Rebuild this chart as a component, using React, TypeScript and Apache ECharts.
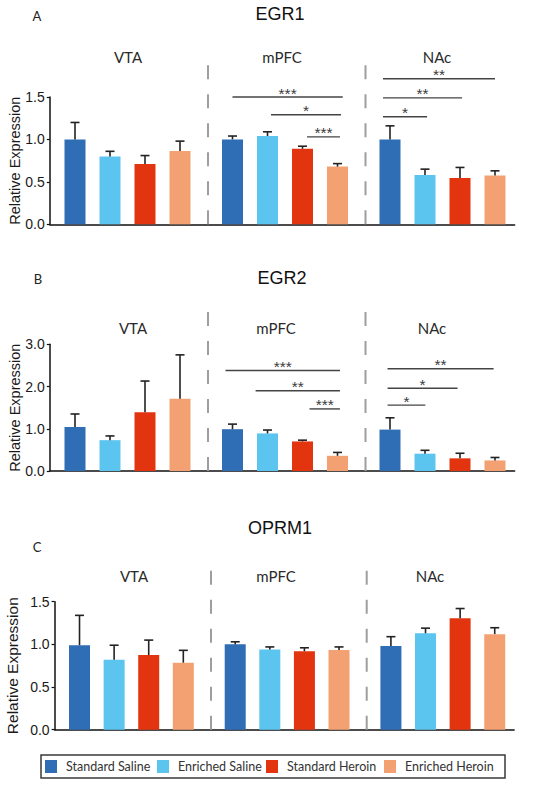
import React, { useEffect, useRef } from 'react';
import * as echarts from 'echarts';

const GROUPS = ['Standard Saline', 'Enriched Saline', 'Standard Heroin', 'Enriched Heroin'];
const COLORS = ['#2F6DB5', '#5BC4EF', '#E2340F', '#F3A172'];
const REGIONS = ['VTA', 'mPFC', 'NAc'];
const GENES = ['EGR1', 'EGR2', 'OPRM1'];
const LETTERS = ['A', 'B', 'C'];

// means [region][group]
const EGR1_MEAN = [[1.0, 0.8, 0.71, 0.865], [1.0, 1.04, 0.89, 0.68], [1.0, 0.58, 0.545, 0.575]];
const EGR1_SEM = [[0.2, 0.06, 0.1, 0.115], [0.04, 0.05, 0.03, 0.035], [0.16, 0.07, 0.125, 0.055]];
const EGR2_MEAN = [[1.04, 0.73, 1.39, 1.71], [0.99, 0.89, 0.7, 0.36], [0.98, 0.41, 0.3, 0.25]];
const EGR2_SEM = [[0.31, 0.1, 0.74, 1.04], [0.12, 0.08, 0.03, 0.08], [0.28, 0.08, 0.12, 0.07]];
const OPRM1_MEAN = [[0.99, 0.82, 0.875, 0.785], [1.0, 0.94, 0.92, 0.935], [0.98, 1.13, 1.305, 1.12]];
const OPRM1_SEM = [[0.35, 0.17, 0.175, 0.145], [0.03, 0.03, 0.04, 0.035], [0.11, 0.06, 0.115, 0.075]];

const Y_MAX = [1.5, 3.0, 1.5];
const Y_STEP = [0.5, 1.0, 0.5];

// significance brackets: region, from/to (bar index within region), level, label
const EGR1_SIG = [
  { region: 1, from: 0, to: 3.15, level: 1.5, label: '***' },
  { region: 1, from: 1.1, to: 3.1, level: 1.29, label: '*' },
  { region: 1, from: 2.13, to: 3.07, level: 1.03, label: '***' },
  { region: 2, from: -0.2, to: 3.0, level: 1.715, label: '**' },
  { region: 2, from: -0.2, to: 2.06, level: 1.49, label: '**' },
  { region: 2, from: -0.2, to: 1.06, level: 1.267, label: '*' },
];
const EGR2_SIG = [
  { region: 1, from: -0.2, to: 3.07, level: 2.38, label: '***' },
  { region: 1, from: 0.66, to: 3.07, level: 1.9, label: '**' },
  { region: 1, from: 2.2, to: 3.07, level: 1.47, label: '***' },
  { region: 2, from: -0.07, to: 2.96, level: 2.42, label: '**' },
  { region: 2, from: -0.07, to: 1.93, level: 1.96, label: '*' },
  { region: 2, from: -0.07, to: 1.01, level: 1.56, label: '*' },
];
const OPRM1_SIG: { region: number; from: number; to: number; level: number; label: string }[] = [];

const MEANS = [EGR1_MEAN, EGR2_MEAN, OPRM1_MEAN];
const SEMS = [EGR1_SEM, EGR2_SEM, OPRM1_SEM];
const SIGS = [EGR1_SIG, EGR2_SIG, OPRM1_SIG];

const REGION_GAP = 4.5;
const DIVIDERS = [3.8, 8.3];
const pos = (r: number, g: number) => r * REGION_GAP + g;

const LAYOUT = [
  { top: 97, h: 127.3, left: 49.8, width: 464.8, divTop: 2.01, titleX: 280, titleY: 14, letterX: 37, letterY: 16, regionY: 57, regionX: [128, 282, 437], nameGap: 27, nameSize: 14.5 },
  { top: 344.3, h: 126.7, left: 49.8, width: 464.8, divTop: 3.93, titleX: 282, titleY: 278, letterX: 38, letterY: 279, regionY: 328, regionX: [133, 276, 432], nameGap: 27, nameSize: 14.5 },
  { top: 601.7, h: 128, left: 54.6, width: 459.5, divTop: 1.93, titleX: 280, titleY: 527.7, letterX: 37, letterY: 546.7, regionY: 575.7, regionX: [134, 276, 430], nameGap: 34, nameSize: 15.5 },
];

const LEGEND_X = [45, 157, 266, 384];

export default function App() {
  const ref = useRef<HTMLDivElement>(null);
  useEffect(() => {
    if (!ref.current) return;
    const chart = echarts.init(ref.current, undefined, { renderer: 'svg' });
    const grid: any[] = [];
    const xAxis: any[] = [];
    const yAxis: any[] = [];
    const series: any[] = [];
    const graphic: any[] = [];

    LAYOUT.forEach((L, p) => {
      grid.push({ left: L.left, top: L.top, width: L.width, height: L.h, containLabel: false, outerBoundsMode: 'none' });
      xAxis.push({
        type: 'value', gridIndex: p, min: -0.72, max: 12.56,
        axisLine: { show: true, onZero: false, lineStyle: { color: '#111', width: 1.5 } },
        axisTick: { show: false }, axisLabel: { show: false }, splitLine: { show: false },
      });
      yAxis.push({
        type: 'value', gridIndex: p, min: 0, max: Y_MAX[p], interval: Y_STEP[p],
        name: 'Relative Expression', nameLocation: 'middle', nameGap: L.nameGap, nameMoveOverlap: false,
        nameTextStyle: { fontFamily: 'Liberation Sans', fontSize: L.nameSize, color: '#1a1a1a' },
        axisLine: { show: true, onZero: false, lineStyle: { color: '#111', width: 1.5 } },
        axisTick: { show: true, length: 3, lineStyle: { color: '#111', width: 1.2 } },
        axisLabel: { margin: 5, fontFamily: 'Liberation Sans', fontSize: 14, color: '#1a1a1a', formatter: (v: number) => v.toFixed(1) },
        splitLine: { show: false },
      });

      GROUPS.forEach((g, gi) => {
        series.push({
          type: 'bar', name: g, xAxisIndex: p, yAxisIndex: p, barWidth: 21, barGap: '-100%',
          itemStyle: { color: COLORS[gi] },
          data: REGIONS.map((_, r) => [pos(r, gi), MEANS[p][r][gi]]),
          z: 2,
        });
      });

      const errData: number[][] = [];
      REGIONS.forEach((_, r) => GROUPS.forEach((_, gi) => errData.push([pos(r, gi), MEANS[p][r][gi], SEMS[p][r][gi]])));
      series.push({
        type: 'custom', xAxisIndex: p, yAxisIndex: p, z: 3, silent: true,
        encode: { x: 0, y: 1 },
        data: errData,
        renderItem: (params: any, api: any) => {
          const x = api.value(0), m = api.value(1), e = api.value(2);
          const p0 = api.coord([x, m]);
          const p1 = api.coord([x, m + e]);
          return {
            type: 'group', children: [
              { type: 'line', shape: { x1: p0[0], y1: p0[1], x2: p1[0], y2: p1[1] }, style: { stroke: '#222', lineWidth: 1.6 } },
              { type: 'line', shape: { x1: p1[0] - 4.5, y1: p1[1], x2: p1[0] + 4.5, y2: p1[1] }, style: { stroke: '#222', lineWidth: 1.6 } },
            ],
          };
        },
      });

      series.push({
        type: 'custom', xAxisIndex: p, yAxisIndex: p, z: 1, silent: true,
        encode: { x: 0, y: 1 },
        data: DIVIDERS.map((d) => [d, 0]),
        renderItem: (params: any, api: any) => {
          const x = api.value(0);
          const a = api.coord([x, 0]);
          const b = api.coord([x, L.divTop]);
          return { type: 'line', shape: { x1: a[0], y1: a[1], x2: b[0], y2: b[1] }, style: { stroke: '#9e9e9e', lineWidth: 2, lineDash: [14, 15] } };
        },
      });

      const sig = SIGS[p];
      if (sig.length) {
        series.push({
          type: 'custom', xAxisIndex: p, yAxisIndex: p, z: 4, silent: true,
          encode: { x: [0, 1], y: 2 },
          data: sig.map((s) => [pos(s.region, s.from), pos(s.region, s.to), s.level]),
          renderItem: (params: any, api: any) => {
            const a = api.coord([api.value(0), api.value(2)]);
            const b = api.coord([api.value(1), api.value(2)]);
            return {
              type: 'group', children: [
                { type: 'line', shape: { x1: a[0], y1: a[1], x2: b[0], y2: b[1] }, style: { stroke: '#444', lineWidth: 1.4 } },
                { type: 'text', x: (a[0] + b[0]) / 2, y: a[1] - 4, style: { text: sig[params.dataIndex].label, fontFamily: 'Liberation Sans', fontSize: 15.5, fill: '#3a3a3a', align: 'center', verticalAlign: 'middle' } },
              ],
            };
          },
        });
      }

      graphic.push({ type: 'text', x: L.titleX, y: L.titleY, style: { text: GENES[p], fontFamily: 'Liberation Sans', fontSize: 18, fill: '#111', align: 'center', verticalAlign: 'middle' } });
      graphic.push({ type: 'text', x: L.letterX, y: L.letterY, style: { text: LETTERS[p], fontFamily: 'Lato', fontSize: 13, fill: '#222', align: 'center', verticalAlign: 'middle' } });
      REGIONS.forEach((rn, r) => {
        graphic.push({ type: 'text', x: L.regionX[r], y: L.regionY, style: { text: rn, fontFamily: 'Lato', fontSize: 15, fill: '#2a2a2a', align: 'center', verticalAlign: 'middle' } });
      });
    });

    graphic.push({ type: 'rect', shape: { x: 41, y: 755, width: 464, height: 23 }, style: { fill: 'none', stroke: '#3a3a3a', lineWidth: 1.5 } });

    const legend = GROUPS.map((g, i) => ({
      data: [g], left: LEGEND_X[i], top: 760, padding: 0, itemWidth: 12, itemHeight: 13, icon: 'rect',
      selectedMode: false,
      textStyle: { fontFamily: 'Lato', fontSize: 12.5, color: '#333', padding: [0, 0, 0, 4] },
    }));

    chart.setOption({ animation: false, backgroundColor: '#fff', grid, xAxis, yAxis, series, graphic, legend });
    return () => chart.dispose();
  }, []);
  return <div ref={ref} style={{ position: 'fixed', left: 0, top: 0, width: 540, height: 785 }} />;
}
